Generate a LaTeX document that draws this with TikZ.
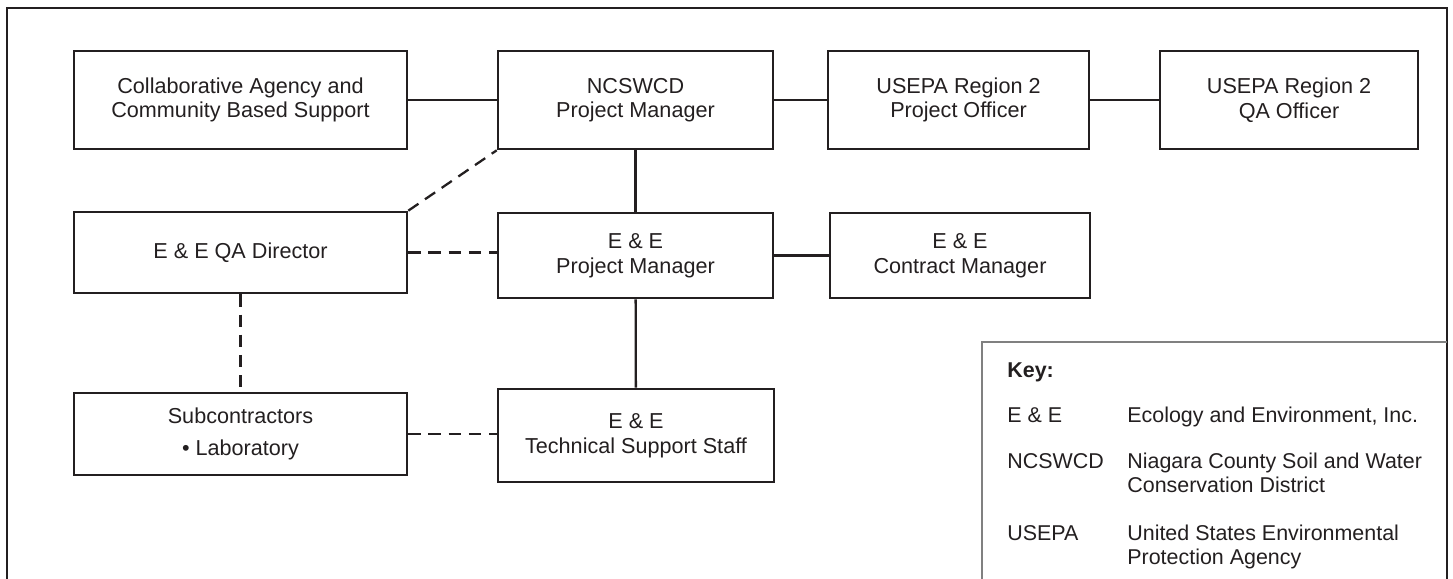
\documentclass[tikz,border=0pt]{standalone}
\usepackage{fontspec}
\setmainfont{Liberation Sans}
\usetikzlibrary{calc}
\usetikzlibrary{positioning}
\definecolor{ink}{HTML}{231F20}
\definecolor{keyline}{HTML}{808080}
\tikzset{unit/.style={rectangle,draw=ink,line width=1.5pt,align=center,text=ink,font=\fontsize{12.3}{14}\selectfont,inner sep=0pt}}
\tikzset{link/.style={draw=ink,line width=1.3pt}}
\tikzset{dashlink/.style={link,dash pattern=on 7pt off 4.5pt}}
\tikzset{keytext/.style={anchor=north west,align=left,text=ink,inner sep=0pt,font=\fontsize{12.2}{13.2}\selectfont}}

\begin{document}
\begin{tikzpicture}[x=0.02cm,y=-0.02cm]
\useasboundingbox (0,0) rectangle (1453,578);
\clip (0,0) rectangle (1453,578);

% outer frame and key panel
\draw[ink,line width=1.3pt] (7,620) -- (7,8) -- (1447,8) -- (1447,620);
\draw[keyline,line width=0.7pt] (982,620) -- (982,342) -- (1447,342);

% top row
\node[unit,minimum width=6.66cm,minimum height=1.96cm] (coll) at (240.5,100) {Collaborative Agency and\\Community Based Support};
\node[unit,minimum width=5.5cm,minimum height=1.96cm] (ncs) at (635.5,100) {NCSWCD\\Project Manager};
\node[unit,minimum width=5.22cm,minimum height=1.96cm] (epo) at (958.5,100) {USEPA Region 2\\Project Officer};
\node[unit,minimum width=5.16cm,minimum height=1.96cm] (eqa) at (1289,100) {USEPA Region 2\\QA Officer};
\draw[link] (coll) -- (ncs);
\draw[link] (ncs) -- (epo);
\draw[link] (epo) -- (eqa);

% middle row
\node[unit,minimum width=6.66cm,minimum height=1.62cm] (qad) at (240.5,252.5) {E \& E QA Director};
\node[unit,minimum width=5.5cm,minimum height=1.7cm] (epm) at (635.5,255.5) {E \& E\\Project Manager};
\node[unit,minimum width=5.2cm,minimum height=1.7cm] (ecm) at (960,255.5) {E \& E\\Contract Manager};
\draw[link] (ncs) -- (epm);
\draw[link] (epm) -- (ecm);
\draw[dashlink] (qad.east) -- (qad.east -| epm.west);
\draw[dashlink] (qad.north east) -- (ncs.south west);

% bottom row
\node[unit,minimum width=6.66cm,minimum height=1.64cm] (sub) at (240.5,434) {Subcontractors\\[4pt]\textbullet\ Laboratory};
\node[unit,minimum width=5.52cm,minimum height=1.86cm] (tss) at (636,435.5) {E \& E\\Technical Support Staff};
\draw[link] (epm) -- (tss);
\draw[dashlink] (qad) -- (sub);
\draw[dashlink] (sub.east) -- (sub.east -| tss.west);

% key
\node[keytext] (keyhead) at (1007,362) {\bfseries Key:};
\node[keytext] (kee) at (1007,407) {E \& E};
\node[keytext] (keedef) at (1127,407) {Ecology and Environment, Inc.};
\node[keytext] (kncs) at (1007,453) {NCSWCD};
\node[keytext] (kncsdef) at (1127,453) {Niagara County Soil and Water\\Conservation District};
\node[keytext] (kepa) at (1007,525) {USEPA};
\node[keytext] (kepadef) at (1127,525) {United States Environmental\\Protection Agency};
\end{tikzpicture}
\end{document}
